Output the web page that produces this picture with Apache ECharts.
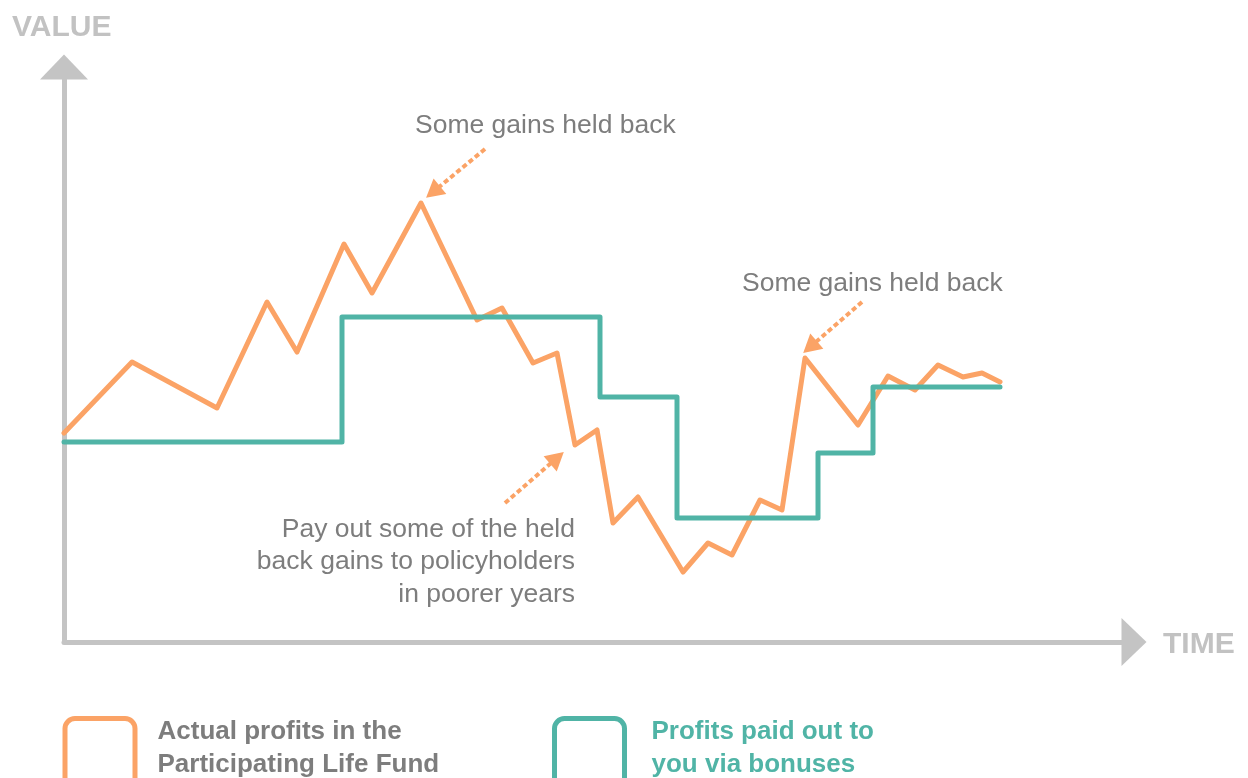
<!DOCTYPE html>
<html>
<head>
<meta charset="utf-8">
<title>Participating Life Fund - smoothing</title>
<script src="https://cdn.jsdelivr.net/npm/echarts@6/dist/echarts.min.js"></script>
<style>
  html, body { margin: 0; padding: 0; background: #fff; }
  #chart { width: 1248px; height: 778px; }
</style>
</head>
<body>
<div id="chart"></div>
<script>
// Data (schematic units: time along x, value up y)
const actualProfits = [
    [0, 209], [68, 280], [153, 234], [203, 340], [233, 290], [280, 398],
    [308, 349], [357, 439], [413, 322], [438, 334], [469, 279], [493, 289],
    [511, 197], [533, 212], [549, 119], [574, 145], [619, 70], [644, 99],
    [668, 87], [696, 142], [718, 132], [741, 284], [794, 217], [824, 266],
    [851, 252], [874, 277], [899, 265], [918, 269], [936, 260]
];
const bonusesPaid = [
    [0, 200], [278, 325], [536, 245], [613, 124], [754, 189], [809, 255], [936, 255]
];
// annotation arrows: [tail, tip]
const arrowPeak1 = [[421, 493], [369, 450]];
const arrowPeak2 = [[798, 340], [746, 295]];
const arrowPayout = [[441, 139], [493, 184]];

const seriesNames = ['Actual profits in the\nParticipating Life Fund', 'Profits paid out to\nyou via bonuses'];
const payoutNote = ['Pay out some of the held', 'back gains to policyholders', 'in poorer years'];

const ORANGE = '#fba366';
const TEAL = '#50b4a6';
const AXIS_GREY = '#c4c4c4';
const TEXT_GREY = '#7d7d7d';
const FONT = '"Liberation Sans", Arial, Helvetica, sans-serif';

const chart = echarts.init(document.getElementById('chart'));

// legend box is cut off by the bottom edge in the original, so leave it open at the bottom
const boxPath = 'path://M0,60 V10 A10,10 0 0 1 10,0 H60 A10,10 0 0 1 70,10 V60';

function arrowLine(pair) {
    return [{ coord: pair[0] }, { coord: pair[1] }];
}

// one legend per series so each box sits where the original has it
function legendFor(name, color, left, padLeft) {
    return {
        left: left,
        top: 715.5,
        padding: 0,
        orient: 'vertical',
        selectedMode: false,
        itemWidth: 70,
        itemHeight: 60,
        data: [{
            name: name,
            icon: boxPath,
            itemStyle: { color: 'rgba(0,0,0,0)', borderColor: color, borderWidth: 5 },
            textStyle: {
                color: color === ORANGE ? TEXT_GREY : TEAL,
                fontFamily: FONT,
                fontWeight: 'bold',
                fontSize: 26,
                lineHeight: 33,
                padding: [0, 0, 0, padLeft]
            }
        }]
    };
}

const noteText = payoutNote.map((line, i) => ({
    type: 'text', right: 673, top: 516 + i * 32.5,
    style: { text: line, fill: TEXT_GREY, font: '26.5px ' + FONT }
}));

const option = {
    backgroundColor: '#fff',
    animation: false,
    grid: { left: 64, right: 114, top: 67, bottom: 136 },
    xAxis: {
        type: 'value',
        min: 0,
        max: 1070,
        axisLine: {
            show: true,
            onZero: false,
            symbol: ['none', 'triangle'],
            symbolSize: [48, 25],
            lineStyle: { color: AXIS_GREY, width: 5 }
        },
        axisTick: { show: false },
        axisLabel: { show: false },
        splitLine: { show: false }
    },
    yAxis: {
        type: 'value',
        min: 0,
        max: 575,
        axisLine: {
            show: true,
            onZero: false,
            symbol: ['none', 'triangle'],
            symbolSize: [48, 25],
            lineStyle: { color: AXIS_GREY, width: 5 }
        },
        axisTick: { show: false },
        axisLabel: { show: false },
        splitLine: { show: false }
    },
    legend: [
        legendFor(seriesNames[0], ORANGE, 62.5, 17.5),
        legendFor(seriesNames[1], TEAL, 552, 22)
    ],
    series: [
        {
            name: seriesNames[0],
            type: 'line',
            data: actualProfits,
            showSymbol: false,
            symbol: 'none',
            z: 2,
            lineStyle: { color: ORANGE, width: 5, join: 'round', cap: 'round' },
            itemStyle: { color: ORANGE },
            markLine: {
                silent: true,
                symbol: ['none', 'triangle'],
                symbolSize: [20, 18],
                label: { show: false },
                lineStyle: { color: ORANGE, width: 4, type: [5, 3] },
                emphasis: { disabled: true },
                data: [arrowLine(arrowPeak1), arrowLine(arrowPeak2), arrowLine(arrowPayout)]
            }
        },
        {
            name: seriesNames[1],
            type: 'line',
            step: 'end',
            data: bonusesPaid,
            showSymbol: false,
            symbol: 'none',
            z: 3,
            lineStyle: { color: TEAL, width: 5, join: 'round', cap: 'round' },
            itemStyle: { color: TEAL }
        }
    ],
    graphic: [
        {
            type: 'text', left: 12, top: 13,
            style: { text: 'VALUE', fill: '#c2c2c2', font: 'bold 30px ' + FONT }
        },
        {
            type: 'text', left: 1163, top: 630,
            style: { text: 'TIME', fill: '#c2c2c2', font: 'bold 30px ' + FONT }
        },
        {
            type: 'text', left: 415, top: 112,
            style: { text: 'Some gains held back', fill: TEXT_GREY, font: '26.5px ' + FONT }
        },
        {
            type: 'text', left: 742, top: 270,
            style: { text: 'Some gains held back', fill: TEXT_GREY, font: '26.5px ' + FONT }
        }
    ].concat(noteText)
};

chart.setOption(option);
</script>
</body>
</html>
